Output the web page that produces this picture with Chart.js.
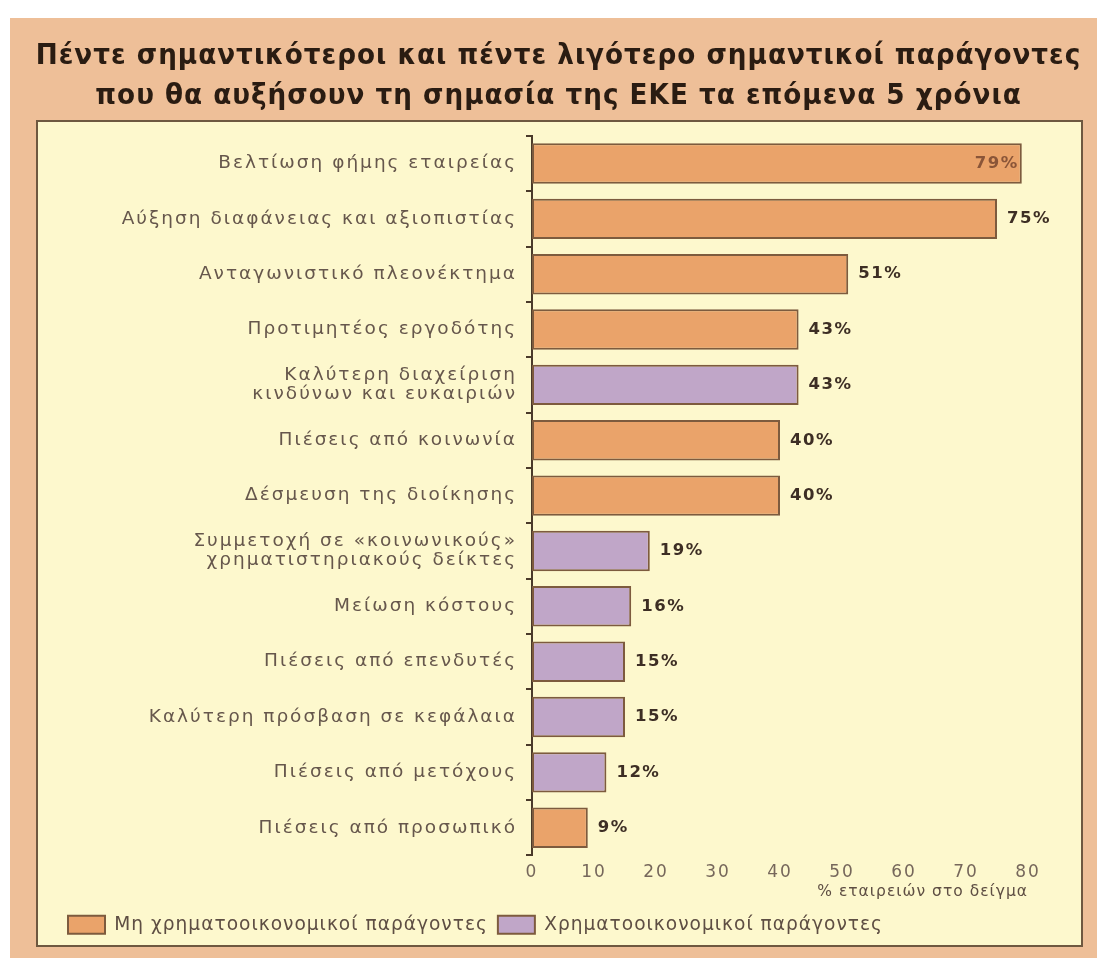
<!DOCTYPE html>
<html lang="el">
<head>
<meta charset="utf-8">
<title>Παράγοντες ΕΚΕ</title>
<script src="https://cdn.jsdelivr.net/npm/chart.js@4/dist/chart.umd.min.js"></script>
<style>
  html, body { margin: 0; padding: 0; background: #ffffff; }
  #chart { display: block; width: 1097px; height: 958px; }
</style>
</head>
<body>
<canvas id="chart" width="1097" height="958"></canvas>
<script>
// Factors (top to bottom)
const factors = [
  "Βελτίωση φήμης εταιρείας",
  "Αύξηση διαφάνειας και αξιοπιστίας",
  "Ανταγωνιστικό πλεονέκτημα",
  "Προτιμητέος εργοδότης",
  ["Καλύτερη διαχείριση", "κινδύνων και ευκαιριών"],
  "Πιέσεις από κοινωνία",
  "Δέσμευση της διοίκησης",
  ["Συμμετοχή σε «κοινωνικούς»", "χρηματιστηριακούς δείκτες"],
  "Μείωση κόστους",
  "Πιέσεις από επενδυτές",
  "Καλύτερη πρόσβαση σε κεφάλαια",
  "Πιέσεις από μετόχους",
  "Πιέσεις από προσωπικό"
];

// % of companies in the sample, split by factor type
const nonFinancial = [79, 75, 51, 43, null, 40, 40, null, null, null, null, null, 9];
const financial    = [null, null, null, null, 43, null, null, 19, 16, 15, 15, 12, null];

const seriesNames = ["Μη χρηματοοικονομικοί παράγοντες", "Χρηματοοικονομικοί παράγοντες"];
const titleLines = [
  "Πέντε σημαντικότεροι και πέντε λιγότερο σημαντικοί παράγοντες",
  "που θα αυξήσουν τη σημασία της ΕΚΕ τα επόμενα 5 χρόνια"
];
const axisTitle = "% εταιρειών στο δείγμα";
const xTicks = { min: 0, max: 80, step: 10 };

const ORANGE = "#eaa36a";
const PURPLE = "#c0a6c8";
const OUTLINE = "#7d5b3e";

// Wide lettering: title/legend use one spacing, axis labels another
const HEAD_SPACING = "1px";
const AXIS_SPACING = "2px";

// Peach frame with the pale yellow panel behind the chart
const framePlugin = {
  id: "frame",
  beforeLayout(chart) {
    chart.ctx.letterSpacing = HEAD_SPACING;
  },
  afterLayout(chart) {
    // legend starts under the panel's left margin
    if (chart.legend) chart.legend.left = 58;
  },
  beforeDraw(chart) {
    const ctx = chart.ctx;
    const w = chart.width, h = chart.height;
    ctx.save();
    ctx.fillStyle = "#ffffff";
    ctx.fillRect(0, 0, w, h);
    ctx.fillStyle = "#eebf98";
    ctx.fillRect(10, 18, w - 10, h - 18);
    ctx.fillStyle = "#fdf8cd";
    ctx.fillRect(37, 121, 1045, 825);
    ctx.strokeStyle = "#6e5840";
    ctx.lineWidth = 2;
    ctx.strokeRect(37, 121, 1045, 825);
    ctx.restore();
    ctx.letterSpacing = HEAD_SPACING;
  },
  afterDraw(chart) {
    chart.ctx.letterSpacing = "0px";
  }
};

// Percent labels beside each bar (the longest bar carries its label inside)
const valueLabels = {
  id: "valueLabels",
  afterDatasetsDraw(chart) {
    const ctx = chart.ctx;
    const all = chart.data.datasets.flatMap(d => d.data).filter(v => v != null);
    const top = Math.max(...all);
    ctx.save();
    ctx.letterSpacing = "1.5px";
    ctx.font = "bold 16.5px 'DejaVu Sans'";
    ctx.textBaseline = "middle";
    chart.data.datasets.forEach((ds, i) => {
      const meta = chart.getDatasetMeta(i);
      meta.data.forEach((bar, j) => {
        const v = ds.data[j];
        if (v == null) return;
        const text = v + "%";
        if (v === top) {
          ctx.textAlign = "right";
          ctx.fillStyle = "#8a5538";
          ctx.fillText(text, bar.x - 3, bar.y);
        } else {
          ctx.textAlign = "left";
          ctx.fillStyle = "#3d2e24";
          ctx.fillText(text, bar.x + 10, bar.y);
        }
      });
    });
    ctx.restore();
    // axis tick labels are drawn after the bars (ticks z: 1)
    ctx.letterSpacing = AXIS_SPACING;
  }
};

new Chart(document.getElementById("chart"), {
  type: "bar",
  data: {
    labels: factors,
    datasets: [
      {
        label: seriesNames[0],
        data: nonFinancial,
        backgroundColor: ORANGE,
        borderColor: OUTLINE,
        borderWidth: 2,
        borderSkipped: false
      },
      {
        label: seriesNames[1],
        data: financial,
        backgroundColor: PURPLE,
        borderColor: OUTLINE,
        borderWidth: 2,
        borderSkipped: false
      }
    ]
  },
  options: {
    indexAxis: "y",
    responsive: false,
    devicePixelRatio: 1,
    animation: false,
    events: [],
    layout: { padding: { left: 30, right: 10, top: 0, bottom: 14 } },
    datasets: { bar: { categoryPercentage: 1, barPercentage: 0.73 } },
    scales: {
      x: {
        stacked: true,
        min: xTicks.min,
        max: xTicks.max,
        border: { display: false },
        grid: { display: false, drawTicks: false },
        ticks: {
          z: 1,
          stepSize: xTicks.step,
          padding: 7,
          color: "#76675b",
          font: { family: "'DejaVu Sans'", size: 17 }
        },
        title: {
          display: true,
          text: axisTitle,
          align: "end",
          color: "#5e4e43",
          font: { family: "'DejaVu Sans'", size: 15.5 },
          padding: { top: 0, bottom: 4 }
        },
        afterFit(scale) { scale.height = 50; }
      },
      y: {
        stacked: true,
        border: { display: true, color: "#4a3a2a", width: 2 },
        grid: {
          display: true,
          drawOnChartArea: false,
          drawTicks: true,
          tickLength: 6,
          color: "#4a3a2a",
          lineWidth: 2
        },
        ticks: {
          z: 1,
          padding: 9,
          color: "#66574c",
          font: { family: "'DejaVu Sans'", size: 18.5, lineHeight: 1.05 }
        },
        afterFit(scale) { scale.width = 502; }
      },
      // empty margin column right of the plot
      yMargin: {
        type: "category",
        position: "right",
        grid: { display: false, drawTicks: false },
        border: { display: false },
        ticks: { display: false },
        afterFit(scale) { scale.width = 59; }
      }
    },
    plugins: {
      title: {
        display: true,
        text: titleLines,
        color: "#2a1c12",
        font: { family: "'DejaVu Sans Condensed', 'DejaVu Sans'", size: 29.2, weight: "bold", lineHeight: 1.35 },
        padding: { top: 37, bottom: 20 }
      },
      legend: {
        display: true,
        position: "bottom",
        align: "start",
        labels: {
          boxWidth: 37,
          boxHeight: 18,
          padding: 10,
          color: "#5e4e43",
          font: { family: "'DejaVu Sans'", size: 18.6 }
        }
      },
      tooltip: { enabled: false }
    }
  },
  plugins: [framePlugin, valueLabels]
});
</script>
</body>
</html>
